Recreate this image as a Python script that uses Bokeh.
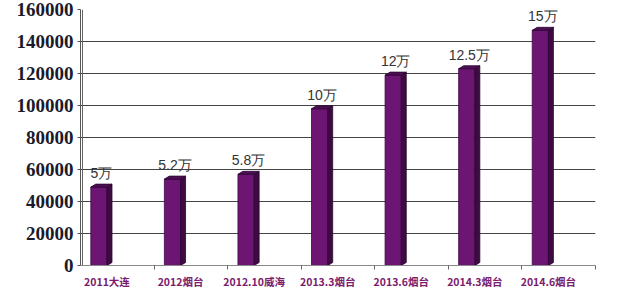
from bokeh.plotting import figure
from bokeh.models import ColumnDataSource, FixedTicker, Span, Range1d
from bokeh.core.properties import value
from bokeh.embed import file_html
from bokeh.resources import INLINE

categories = ["2011大连", "2012烟台", "2012.10威海", "2013.3烟台", "2013.6烟台", "2014.3烟台", "2014.6烟台"]
values = [49000, 54000, 57000, 98000, 119000, 123000, 147000]
bar_labels = ["5万", "5.2万", "5.8万", "10万", "12万", "12.5万", "15万"]
y_ticks = [0, 20000, 40000, 60000, 80000, 100000, 120000, 140000, 160000]

W, H = 620, 291
L, R, T, B = 80, 25, 9, 24
ymax = 160000
ppx = 7 / (W - L - R)            # x data units per pixel
ppy = ymax / (H - T - B)         # y data units per pixel

off, bw = 0.25, 0.22
d, dy = 5 * ppx, 3 * ppy

xc = [i + off for i in range(len(values))]
xl = [x - bw / 2 for x in xc]
xr = [x + bw / 2 for x in xc]

side_xs = [[r, r + d, r + d, r] for r in xr]
side_ys = [[0, dy, v + dy, v] for v in values]
top_xs = [[l, l + d, r + d, r] for l, r in zip(xl, xr)]
top_ys = [[v, v + dy, v + dy, v] for v in values]

p = figure(width=W, height=H, output_backend="svg", toolbar_location=None,
           x_range=Range1d(0, 7), y_range=Range1d(0, ymax),
           min_border_left=L, min_border_right=R, min_border_top=T, min_border_bottom=B)
p.outline_line_color = None
p.background_fill_color = "white"
p.border_fill_color = "white"

p.yaxis.ticker = FixedTicker(ticks=y_ticks)
p.yaxis.major_label_overrides = {t: str(t) for t in y_ticks}
p.yaxis.major_label_text_font = "Liberation Serif"
p.yaxis.major_label_text_font_style = "bold"
p.yaxis.major_label_text_font_size = "19px"
p.yaxis.major_label_text_color = "#1a1a2a"
p.yaxis.major_label_standoff = 4
p.yaxis.axis_line_color = "#555555"
p.yaxis.major_tick_line_color = "#555555"
p.yaxis.major_tick_out = 3
p.yaxis.major_tick_in = 0
p.yaxis.minor_tick_line_color = None

lab_off = 0.36
p.xaxis.ticker = FixedTicker(ticks=[i + lab_off for i in range(7)], minor_ticks=list(range(1, 8)))
p.xaxis.major_label_overrides = {i + lab_off: c for i, c in enumerate(categories)}
p.xaxis.major_label_text_font = "Noto Sans CJK SC"
p.xaxis.major_label_text_font_style = "bold"
p.xaxis.major_label_text_font_size = "10.5px"
p.xaxis.major_label_text_color = "#7a1c6e"
p.xaxis.major_label_standoff = 2
p.xaxis.major_tick_line_color = None
p.xaxis.minor_tick_line_color = "#666666"
p.xaxis.minor_tick_out = 4
p.xaxis.minor_tick_in = 0
p.xaxis.axis_line_color = "#888888"

p.xgrid.grid_line_color = None
p.ygrid.grid_line_color = "#444444"
p.ygrid.grid_line_width = 1

p.add_layout(Span(location=2 * ppx, dimension="height", line_color="#666666", line_width=1))

# bars
p.vbar(x=xc, top=values, width=bw, bottom=0, fill_color="#6c1573", line_color="#3a0840", line_width=0.8)
p.patches(xs=side_xs, ys=side_ys, fill_color="#3d0b42", line_color="#2a0530", line_width=0.8)
p.patches(xs=top_xs, ys=top_ys, fill_color="#4e0f55", line_color="#2a0530", line_width=0.8)

src = ColumnDataSource(dict(x=[x + d / 2 for x in xc], y=values, t=bar_labels))
p.text(x="x", y="y", text="t", source=src, text_align="center", text_baseline="bottom",
       y_offset=-6, text_font=value("Liberation Sans"), text_font_size="14px", text_color="#333333")

open("out.html", "w").write(file_html(p, INLINE))
